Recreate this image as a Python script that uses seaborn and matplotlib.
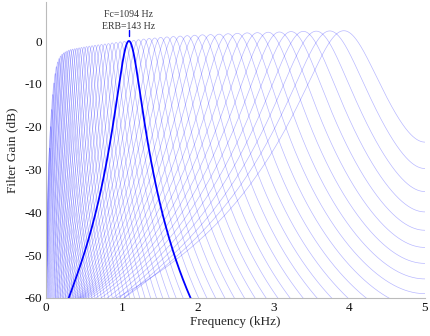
import numpy as np
import pandas as pd
import matplotlib
matplotlib.use("Agg")
import matplotlib.pyplot as plt
import seaborn as sns

# ---- data ----
# centre frequencies of the ERB filterbank (Hz)
centre_freqs_hz = [3930, 3744, 3566, 3396, 3234, 3079, 2931, 2789, 2654, 2525,
                   2402, 2284, 2171, 2064, 1961, 1863, 1770, 1680, 1595, 1513,
                   1435, 1361, 1289, 1221, 1157, 1094, 1035, 979, 925, 873,
                   824, 777, 732, 689, 647, 608, 571, 535, 501, 468,
                   437, 407, 379, 351, 325, 301, 277, 254, 233, 212,
                   192, 173, 155, 138, 122, 106, 91, 77, 63, 50]
# peak gain of each filter (dB)
peak_gain_db = [2.4, 2.35, 2.3, 2.25, 2.2, 2.1, 2.05, 1.95, 1.9, 1.8,
                1.7, 1.6, 1.5, 1.45, 1.35, 1.25, 1.15, 1.05, 0.95, 0.85,
                0.7, 0.6, 0.45, 0.3, 0.15, 0.0, -0.1, -0.2, -0.35, -0.45,
                -0.6, -0.7, -0.8, -0.9, -1.0, -1.1, -1.2, -1.3, -1.4, -1.5,
                -1.6, -1.7, -1.8, -1.9, -2.0, -2.15, -2.35, -2.55, -2.8, -3.1,
                -3.5, -4.1, -4.9, -6.0, -7.6, -9.8, -12.5, -16.0, -20.0, -25.0]
highlight_fc = 1094
highlight_erb = 143
sample_rate = 10000
x_ticks = [0, 1, 2, 3, 4, 5]
y_ticks = [0, -10, -20, -30, -40, -50, -60]


def erb_filter_db(fc, f, fs):
    """Magnitude response (dB) of a 4th-order digital gammatone (ERB) filter."""
    T = 1.0 / fs
    theta = 2 * np.pi * fc * T
    B = 1.019 * 2 * np.pi * (fc / 9.26449 + 24.7)
    r = np.exp(-B * T)
    z = np.exp(1j * 2 * np.pi * f * T)
    k1 = np.sqrt(3 + 2 ** 1.5)
    k2 = np.sqrt(3 - 2 ** 1.5)
    zeros = [r * (np.cos(theta) + k1 * np.sin(theta)),
             r * (np.cos(theta) - k1 * np.sin(theta)),
             r * (np.cos(theta) + k2 * np.sin(theta)),
             r * (np.cos(theta) - k2 * np.sin(theta))]
    num = np.ones_like(f, dtype=float)
    for z0 in zeros:
        num = num * np.abs(z - z0)
    p = r * np.exp(1j * theta)
    den = (np.abs(z - p) * np.abs(z - np.conj(p))) ** 4
    h = num / den
    db = 20 * np.log10(np.maximum(h, 1e-30))
    return db - db.max()


freq = np.linspace(0, 5000, 2501)
rows = []
for fc, g in zip(centre_freqs_hz, peak_gain_db):
    db = np.clip(erb_filter_db(fc, freq, sample_rate) + g, -90, None)
    rows.append(pd.DataFrame({"kHz": freq / 1000.0, "dB": db, "fc": fc}))
df = pd.concat(rows, ignore_index=True)
df_thin = df[df["fc"] != highlight_fc]
df_hi = df[df["fc"] == highlight_fc]

sns.set_style("white")
plt.rcParams["font.family"] = ["Liberation Serif", "DejaVu Serif"]
plt.rcParams["axes.unicode_minus"] = False

fig = plt.figure(figsize=(4.30, 3.36), dpi=100)
ax = fig.add_axes([46 / 430, 1 - 298 / 336, (425 - 46) / 430, (298 - 2.45) / 336])

sns.lineplot(data=df_thin, x="kHz", y="dB", units="fc", estimator=None,
             color="#0000ff", alpha=0.28, linewidth=0.5, legend=False, ax=ax)
sns.lineplot(data=df_hi, x="kHz", y="dB", estimator=None,
             color="#0000ff", linewidth=1.3, legend=False, ax=ax)

hk = highlight_fc / 1000.0
ax.plot([hk, hk], [1.2, 2.6], color="#0000ff", linewidth=1.0)
ax.text(hk - 0.01, 6.3, f"Fc={highlight_fc} Hz", ha="center", va="center",
        fontsize=7, color="#333333")
ax.text(hk - 0.01, 3.5, f"ERB={highlight_erb} Hz", ha="center", va="center",
        fontsize=7, color="#333333")

ax.set_xlim(0, 5)
ax.set_ylim(-60, 9)
ax.set_xticks(x_ticks)
ax.set_xticklabels([str(t) for t in x_ticks])
ax.set_yticks(y_ticks)
ax.set_yticklabels([str(t) for t in y_ticks])
ax.set_xlabel("Frequency (kHz)", fontsize=9.5, labelpad=1)
ax.set_ylabel("Filter Gain (dB)", fontsize=9.5, labelpad=4)
ax.tick_params(axis="both", direction="in", length=3, width=0.8,
               colors="#111111", labelsize=9.5, pad=3)
for side in ["top", "right"]:
    ax.spines[side].set_visible(False)
for side in ["left", "bottom"]:
    ax.spines[side].set_color("#bbbbbb")
    ax.spines[side].set_linewidth(0.8)
ax.grid(False)

fig.savefig("out.png", dpi=100)
